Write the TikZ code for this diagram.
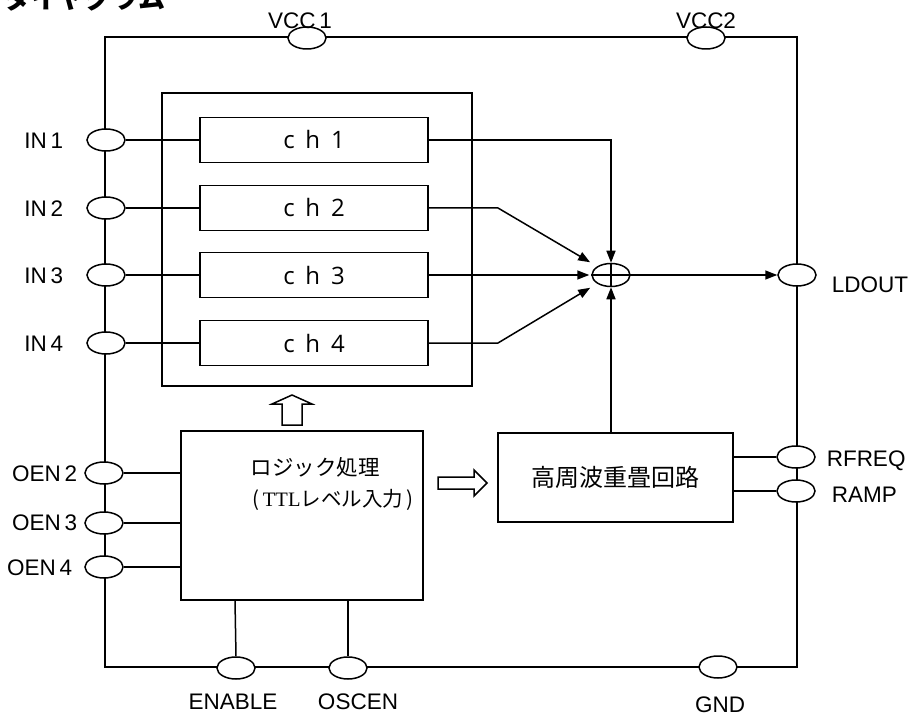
\documentclass[tikz,border=0pt]{standalone}
\usepackage{fontspec}
\setmainfont{Liberation Sans}
\newfontfamily\jp{Noto Sans CJK JP}
\newfontfamily\serifTTL{Liberation Serif}
\newfontfamily\chfont{Open Sans}
\usetikzlibrary{shapes.geometric,arrows.meta}
\begin{document}
\begin{tikzpicture}[x=1pt,y=-1pt,
  line width=1.5pt,
  pin/.style={draw,ellipse,fill=white,minimum width=38pt,minimum height=22pt,inner sep=0pt},
  lbl/.style={inner sep=0pt,font=\fontsize{22.5}{25}\selectfont},
  chbox/.style={draw,minimum width=228pt,minimum height=45pt,inner sep=0pt,font=\chfont\fontsize{24}{26}\selectfont},
  blk/.style={draw,inner sep=0pt},
  arr/.style={-{Triangle[length=12pt,width=9pt]}},
  hollow/.style={draw,fill=white,line width=1.5pt}]
\useasboundingbox (0,0) rectangle (915,719);

% title (cut off at top)
\node[anchor=south west,inner sep=0pt,font=\jp\bfseries\fontsize{27}{30}\selectfont] (title) at (4,12) {ダイヤグラム};

% outer frame
\coordinate (tl) at (105,37);
\coordinate (tr) at (797,37);
\coordinate (br) at (797,667);
\coordinate (bl) at (105,667);
\draw (tl) -- (tr) -- (br) -- (bl) -- cycle;

% inner block
\node[blk,minimum width=310pt,minimum height=293pt] (inner) at (317,239.5) {};

% channel boxes
\node[chbox] (ch1) at (314,140) {c\hspace{0.45em}h\hspace{0.45em}1};
\node[chbox] (ch2) at (314,208) {c\hspace{0.45em}h\hspace{0.45em}2};
\node[chbox] (ch3) at (314,275) {c\hspace{0.45em}h\hspace{0.45em}3};
\node[chbox] (ch4) at (314,343) {c\hspace{0.45em}h\hspace{0.45em}4};

% pins
\node[pin] (vcc1) at (307,38) {};
\node[pin] (vcc2) at (706,38) {};
\node[pin] (in1) at (106,140) {};
\node[pin] (in2) at (106,208) {};
\node[pin] (in3) at (106,275) {};
\node[pin] (in4) at (106,343) {};
\node[pin] (oen2) at (104,473) {};
\node[pin] (oen3) at (104,523) {};
\node[pin] (oen4) at (104,567) {};
\node[pin] (ldout) at (797,275) {};
\node[pin] (rfreq) at (796,457) {};
\node[pin] (ramp) at (796,491) {};
\node[pin] (enable) at (236,668) {};
\node[pin] (oscen) at (348,668) {};
\node[pin] (gnd) at (718,667) {};

% pin labels
\node[lbl] (lvcc1) at (300,21) {VCC\,1};
\node[lbl] (lvcc2) at (706,21) {VCC2};
\node[lbl,anchor=east] (lin1) at (64,141) {IN\,1};
\node[lbl,anchor=east] (lin2) at (64,209) {IN\,2};
\node[lbl,anchor=east] (lin3) at (64,276) {IN\,3};
\node[lbl,anchor=east] (lin4) at (64,344) {IN\,4};
\node[lbl,anchor=east] (loen2) at (78,474) {OEN\,2};
\node[lbl,anchor=east] (loen3) at (78,523) {OEN\,3};
\node[lbl,anchor=east] (loen4) at (73,568) {OEN\,4};
\node[lbl,anchor=west] (lldout) at (831,285) {LDOUT};
\node[lbl,anchor=west] (lrfreq) at (826,461) {RFREQ};
\node[lbl,anchor=west] (lramp) at (831,495) {RAMP};
\node[lbl] (lenable) at (233,702) {ENABLE};
\node[lbl] (loscen) at (358,702) {OSCEN};
\node[lbl] (lgnd) at (720,705) {GND};

% summing node
\node[draw,ellipse,minimum width=38pt,minimum height=23pt,inner sep=0pt] (sum) at (611,275) {};
\draw (sum.west) -- (sum.east) (sum.north) -- (sum.south);

% logic and RF blocks
\node[blk,minimum width=242pt,minimum height=169pt] (logic) at (302,515.5) {};
\node[inner sep=0pt,font=\jp\fontsize{21.5}{24}\selectfont] (t1) at (315,467) {ロジック処理};
\node[inner sep=0pt,font=\jp\fontsize{20.5}{24}\selectfont] (t2) at (333,500) {(\,{\serifTTL TTL}レベル入力\,)};
\node[blk,minimum width=235pt,minimum height=89pt,font=\jp\fontsize{24}{26}\selectfont] (rf) at (615.5,477.5) {高周波重畳回路};

% input connections
\draw (in1.east) -- (ch1.west);
\draw (in2.east) -- (ch2.west);
\draw (in3.east) -- (ch3.west);
\draw (in4.east) -- (ch4.west);

% channel outputs to summing node
\draw[arr] (ch1.east) -| (sum.north);
\draw[arr,shorten >=8pt] (ch2.east) -- (498,208) -- (sum.north west);
\draw[arr,shorten >=2pt] (ch3.east) -- (sum.west);
\draw[arr,shorten >=8pt] (ch4.east) -- (498,343) -- (sum.south west);
\draw[arr] (sum.east) -- (ldout.west);
\draw[arr] (sum.south |- rf.north) -- (sum.south);

% RF outputs
\draw (rf.east |- rfreq) -- (rfreq.west);
\draw (rf.east |- ramp) -- (ramp.west);

% OEN inputs
\draw (oen2.east) -- (logic.west |- oen2);
\draw (oen3.east) -- (logic.west |- oen3);
\draw (oen4.east) -- (logic.west |- oen4);

% bottom pins
\draw (logic.south -| 235,0) -- (enable.north);
\draw (logic.south -| oscen) -- (oscen.north);

% hollow arrows
\draw[hollow] (282,425) -- (282,404) -- (272,404) -- (292,395) -- (312,404) -- (302,404) -- (302,425) -- cycle;
\draw[hollow] (438,477) -- (474,477) -- (474,470) -- (487,483) -- (474,496) -- (474,489) -- (438,489) -- cycle;
\end{tikzpicture}
\end{document}
